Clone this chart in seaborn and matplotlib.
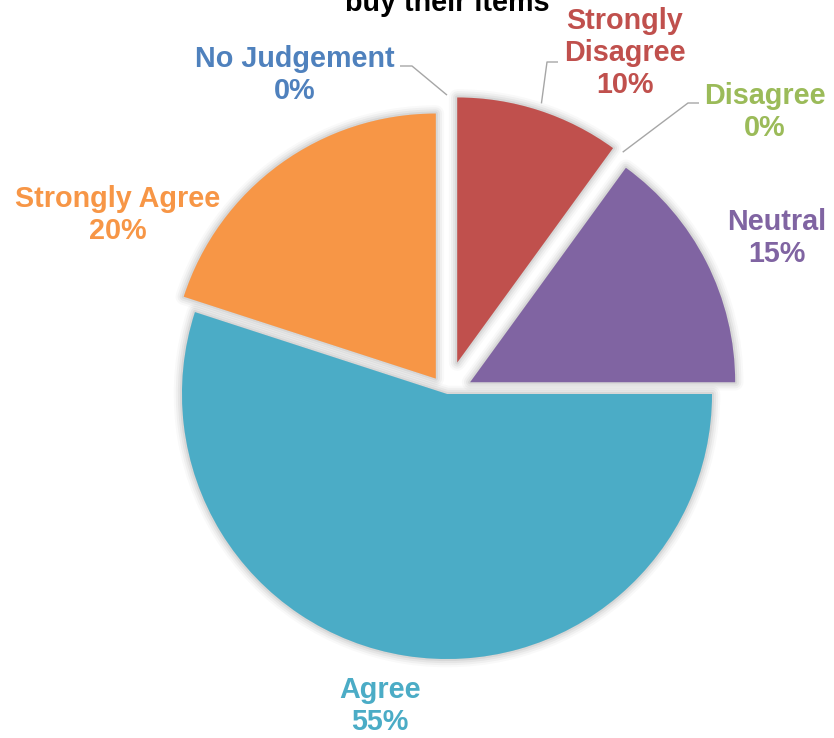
import numpy as np
import pandas as pd
import matplotlib
matplotlib.use("Agg")
import matplotlib.pyplot as plt
import matplotlib.patheffects as pe
import seaborn as sns

# Survey responses (clockwise from 12 o'clock)
categories = ["Strongly Disagree", "Disagree", "Neutral", "Agree",
              "Strongly Agree", "No Judgement"]
shares = [10, 0, 15, 55, 20, 0]
label_names = ["Strongly\nDisagree", "Disagree", "Neutral", "Agree",
               "Strongly Agree", "No Judgement"]
title_text = "buy their items"

colors = ["#C0504D", "#9BBB59", "#8064A2", "#4BACC6", "#F79646", "#4F81BD"]
explode = [0.125, 0.10, 0.098, 0.0, 0.072, 0.10]

df = pd.DataFrame({"category": categories, "share": shares,
                   "label": label_names, "color": colors, "explode": explode})

sns.set_theme(style="white")
plt.rcParams["font.family"] = ["Liberation Sans", "DejaVu Sans"]

W, H = 834, 738
R = 265.0            # pie radius in pixels
cx, cy = 447.0, 394.0  # pie centre in pixels (y downwards)


def px(x, y):
    """Pixel position -> data coordinates of the unit pie."""
    return ((x - cx) / R, (cy - y) / R)


fig = plt.figure(figsize=(W / 100, H / 100), dpi=100)
fig.patch.set_facecolor("white")
ax = fig.add_axes([0, 0, 1, 1])

wedges, _ = ax.pie(df["share"], colors=df["color"], explode=df["explode"],
                   startangle=90, counterclock=False, radius=1.0,
                   wedgeprops=dict(linewidth=0))

# soft glow-like shadow around each visible slice
shadow = [pe.Stroke(linewidth=lw, foreground="black", alpha=a, joinstyle="round")
          for lw, a in [(12, 0.025), (9, 0.035), (6, 0.045), (3, 0.06)]]
for w, s in zip(wedges, df["share"]):
    if s > 0:
        w.set_path_effects(shadow + [pe.Normal()])
    else:
        w.set_visible(False)

# data labels
label_pos = {
    "Strongly Disagree": (625, 53),
    "Disagree": (765, 112),
    "Neutral": (777, 238),
    "Agree": (380, 706),
    "Strongly Agree": (118, 215),
    "No Judgement": (295, 75),
}
for _, row in df.iterrows():
    x, y = px(*label_pos[row["category"]])
    ax.text(x, y, f"{row['label']}\n{row['share']}%", ha="center", va="center",
            color=row["color"], fontsize=20.7, fontweight="bold",
            linespacing=1.16, multialignment="center")

# leader lines for labels that sit away from their slice
leader_from = {
    "Strongly Disagree": [(558, 62), (547, 62)],
    "Disagree": [(699, 103), (688, 103)],
    "No Judgement": [(400, 66), (412, 66)],
}
cum = np.cumsum([0] + list(df["share"]))
for i, row in df.iterrows():
    if row["category"] not in leader_from:
        continue
    theta = np.deg2rad(360 * (cum[i] + row["share"] / 2) / 100)
    r = 1 + row["explode"] + 0.028
    end = (r * np.sin(theta), r * np.cos(theta))
    pts = [px(*p) for p in leader_from[row["category"]]] + [end]
    xs, ys = zip(*pts)
    ax.plot(xs, ys, color="#A6A6A6", lw=1.0, solid_capstyle="butt")

# chart title (last line of a multi-line heading)
tx, ty = px(447, 11)
ax.text(tx, ty, title_text, ha="center", va="baseline", color="black",
        fontsize=20.7, fontweight="bold")

ax.set_xlim(-cx / R, (W - cx) / R)
ax.set_ylim(-(H - cy) / R, cy / R)
ax.set_aspect("auto")
ax.axis("off")

fig.savefig("out.png", dpi=100, facecolor="white")
